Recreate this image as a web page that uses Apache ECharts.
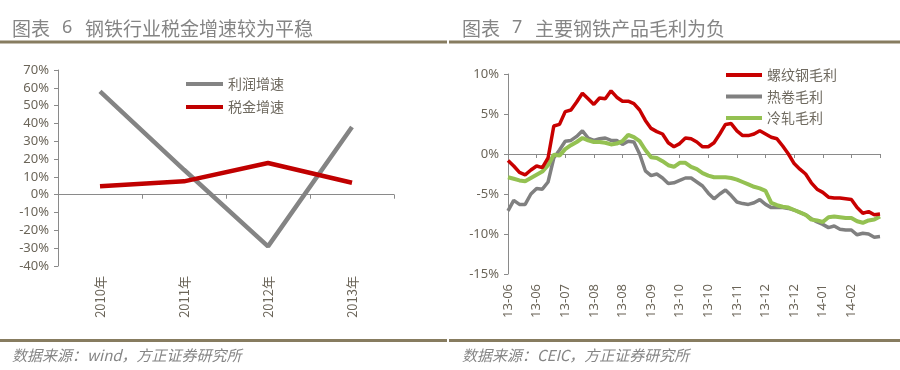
<!DOCTYPE html>
<html>
<head>
<meta charset="utf-8">
<script src="https://cdn.jsdelivr.net/npm/echarts@6/dist/echarts.min.js"></script>
<style>
html,body{margin:0;padding:0;background:#fff;}
#chart{width:900px;height:370px;}
</style>
</head>
<body>
<div id="chart"></div>
<script>
// ---- Left chart data ----
const leftYears = ['2010年', '2011年', '2012年', '2013年'];
const profitGrowth = [58, 14, -29, 38];      // 利润增速 (%)
const taxGrowth = [4.7, 7.5, 17.8, 6.7];     // 税金增速 (%)

// ---- Right chart data ----
const rightTickLabels = ['13-06', '13-06', '13-07', '13-08', '13-08', '13-09', '13-10', '13-10', '13-11', '13-12', '13-12', '14-01', '14-02'];
const rebarMargin = [-0.8, -1.5, -2.3, -2.6, -2.0, -1.5, -1.7, -0.5, 3.5, 3.7,
  5.3, 5.5, 6.5, 7.6, 6.9, 6.2, 7.0, 6.9, 7.9, 7.1,
  6.6, 6.6, 6.3, 5.5, 4.2, 3.2, 2.8, 2.5, 1.4, 0.9,
  1.3, 2.0, 1.9, 1.5, 0.9, 0.9, 1.4, 2.5, 3.7, 3.8,
  2.9, 2.3, 2.3, 2.5, 2.9, 2.5, 2.1, 1.9, 1.0, 0.0,
  -1.2, -1.9, -2.5, -3.6, -4.4, -4.8, -5.4, -5.5, -5.5, -5.6,
  -5.7, -6.7, -7.4, -7.2, -7.6, -7.5];
const hotRollMargin = [-7.1, -5.8, -6.3, -6.3, -5.0, -4.3, -4.4, -3.5, -0.5, 0.5,
  1.6, 1.7, 2.2, 2.9, 2.0, 1.7, 1.9, 2.0, 1.7, 1.7,
  1.2, 1.6, 1.5, 0.0, -2.1, -2.7, -2.5, -3.0, -3.7, -3.6,
  -3.3, -3.0, -3.0, -3.5, -4.0, -4.9, -5.6, -5.0, -4.5, -5.2,
  -6.0, -6.2, -6.3, -6.1, -5.7, -6.3, -6.7, -6.7, -6.7, -6.8,
  -7.0, -7.3, -7.6, -8.1, -8.5, -8.8, -9.2, -9.0, -9.4, -9.5,
  -9.5, -10.1, -9.9, -10.0, -10.4, -10.3];
const coldRollMargin = [-2.9, -3.1, -3.3, -3.4, -3.0, -2.6, -2.2, -1.4, -0.1, -0.2,
  0.6, 1.1, 1.5, 2.0, 1.7, 1.5, 1.5, 1.4, 1.2, 1.3,
  1.6, 2.4, 2.1, 1.6, 0.5, -0.4, -0.5, -0.9, -1.4, -1.6,
  -1.1, -1.1, -1.6, -1.9, -2.4, -2.7, -2.9, -2.9, -2.9, -3.0,
  -3.2, -3.5, -3.8, -4.1, -4.3, -4.6, -6.1, -6.4, -6.6, -6.7,
  -7.0, -7.3, -7.6, -8.2, -8.3, -8.5, -7.9, -7.8, -7.9, -8.0,
  -8.0, -8.4, -8.6, -8.3, -8.2, -7.8];
const labelEvery = 5;
const rightCategories = rebarMargin.map((_, i) =>
  (i % labelEvery === 0 && rightTickLabels[i / labelEvery] !== undefined) ? rightTickLabels[i / labelEvery] : '');

// ---- Text ----
const leftTitleNo = '6', leftTitle = '钢铁行业税金增速较为平稳';
const rightTitleNo = '7', rightTitle = '主要钢铁产品毛利为负';
const leftSource = '数据来源：wind，方正证券研究所';
const rightSource = '数据来源：CEIC，方正证券研究所';

const CJK = '"Noto Sans CJK SC", "Noto Sans", sans-serif';
const NUM = '"Noto Sans", "Open Sans", sans-serif';
const labelColor = '#6b6559';
const axisColor = '#8a8a8a';
const ruleColor = '#877c60';
const titleColor = '#858585';

const chart = echarts.init(document.getElementById('chart'), null, {renderer: 'canvas'});

function yAxisCfg(gridIndex, min, max, interval) {
  return {
    type: 'value', gridIndex, min, max, interval,
    axisLine: {show: true, lineStyle: {color: axisColor, width: 1}},
    axisTick: {show: true, length: 4, lineStyle: {color: axisColor}},
    splitLine: {show: false},
    axisLabel: {formatter: v => v + '%', color: labelColor, fontSize: 13, fontFamily: NUM, margin: 9}
  };
}

const option = {
  animation: false,
  backgroundColor: '#fff',
  grid: [
    {left: 58, top: 70, width: 336, height: 196, containLabel: false},
    {left: 508, top: 74, width: 372, height: 200, containLabel: false}
  ],
  xAxis: [
    { // left labels (bottom)
      type: 'category', gridIndex: 0, data: leftYears, boundaryGap: true,
      axisLine: {show: false, onZero: false}, axisTick: {show: false},
      axisLabel: {rotate: 90, color: labelColor, fontSize: 13, fontFamily: CJK, margin: 10, interval: 0}
    },
    { // left zero line
      type: 'category', gridIndex: 0, data: leftYears, boundaryGap: true, position: 'bottom',
      axisLine: {show: true, onZero: true, lineStyle: {color: axisColor, width: 1}},
      axisTick: {show: true, length: 4, lineStyle: {color: axisColor}},
      axisLabel: {show: false}
    },
    { // right labels (bottom)
      type: 'category', gridIndex: 1, data: rightCategories, boundaryGap: false,
      axisLine: {show: false, onZero: false}, axisTick: {show: false},
      axisLabel: {rotate: 90, color: labelColor, fontSize: 13, fontFamily: NUM, margin: 10, interval: labelEvery - 1}
    },
    { // right zero line
      type: 'category', gridIndex: 1, data: rightCategories, boundaryGap: false, position: 'bottom',
      axisLine: {show: true, onZero: true, lineStyle: {color: axisColor, width: 1}},
      axisTick: {show: true, length: 4, interval: labelEvery - 1, lineStyle: {color: axisColor}},
      axisLabel: {show: false}
    }
  ],
  yAxis: [
    yAxisCfg(0, -40, 70, 10),
    yAxisCfg(1, -15, 10, 5)
  ],
  legend: [
    {
      orient: 'vertical', left: 186, top: 76, padding: 0, itemGap: 7,
      itemWidth: 37, itemHeight: 4, icon: 'rect',
      data: ['利润增速', '税金增速'],
      textStyle: {fontSize: 14, lineHeight: 16, color: '#6f6a60', fontFamily: CJK}
    },
    {
      orient: 'vertical', left: 726, top: 67, padding: 0, itemGap: 5.5,
      itemWidth: 36, itemHeight: 4, icon: 'rect',
      data: ['螺纹钢毛利', '热卷毛利', '冷轧毛利'],
      textStyle: {fontSize: 14, lineHeight: 16, color: '#6f6a60', fontFamily: CJK}
    }
  ],
  series: [
    {name: '利润增速', type: 'line', xAxisIndex: 0, yAxisIndex: 0, data: profitGrowth,
      color: '#848484', symbol: 'none', lineStyle: {width: 4.5, color: '#848484'}, emphasis: {disabled: true}},
    {name: '税金增速', type: 'line', xAxisIndex: 0, yAxisIndex: 0, data: taxGrowth,
      color: '#c00000', symbol: 'none', lineStyle: {width: 4.5, color: '#c00000'}, emphasis: {disabled: true}},
    {name: '热卷毛利', type: 'line', xAxisIndex: 2, yAxisIndex: 1, data: hotRollMargin, z: 2,
      color: '#808080', symbol: 'none', lineStyle: {width: 3.5, color: '#808080'}, emphasis: {disabled: true}},
    {name: '冷轧毛利', type: 'line', xAxisIndex: 2, yAxisIndex: 1, data: coldRollMargin, z: 3,
      color: '#94c152', symbol: 'none', lineStyle: {width: 4, color: '#94c152'}, emphasis: {disabled: true}},
    {name: '螺纹钢毛利', type: 'line', xAxisIndex: 2, yAxisIndex: 1, data: rebarMargin, z: 4,
      color: '#c80000', symbol: 'none', lineStyle: {width: 3.5, color: '#c80000'}, emphasis: {disabled: true}}
  ],
  graphic: [
    {type: 'text', left: 12, top: 19, style: {text: '图表', font: '19px ' + CJK, fill: titleColor}},
    {type: 'text', left: 62, top: 19, style: {text: leftTitleNo, font: '18px ' + NUM, fill: titleColor}},
    {type: 'text', left: 85, top: 19, style: {text: leftTitle, font: '19px ' + CJK, fill: titleColor}},
    {type: 'text', left: 462, top: 19, style: {text: '图表', font: '19px ' + CJK, fill: titleColor}},
    {type: 'text', left: 512, top: 19, style: {text: rightTitleNo, font: '18px ' + NUM, fill: titleColor}},
    {type: 'text', left: 535, top: 19, style: {text: rightTitle, font: '19px ' + CJK, fill: titleColor}},
    {type: 'rect', shape: {x: 0, y: 40.5, width: 447, height: 3}, style: {fill: ruleColor}},
    {type: 'rect', shape: {x: 449, y: 40.5, width: 451, height: 3}, style: {fill: ruleColor}},
    {type: 'rect', shape: {x: 0, y: 339, width: 447, height: 3}, style: {fill: ruleColor}},
    {type: 'rect', shape: {x: 449, y: 339, width: 451, height: 3}, style: {fill: ruleColor}},
    {type: 'text', left: 12, top: 348, style: {text: leftSource, font: 'italic 15px ' + CJK, fill: titleColor}},
    {type: 'text', left: 462, top: 348, style: {text: rightSource, font: 'italic 15px ' + CJK, fill: titleColor}}
  ]
};
chart.setOption(option);
</script>
</body>
</html>
